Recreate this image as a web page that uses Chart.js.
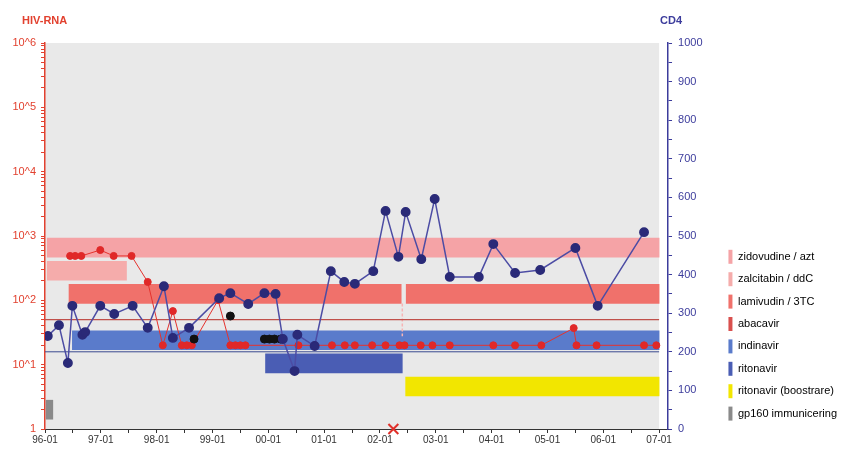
<!DOCTYPE html>
<html lang="sv">
<head>
  <meta charset="UTF-8" />
  <title>HIV-RNA / CD4</title>
  <script src="https://cdn.jsdelivr.net/npm/chart.js"></script>
  <style>
    html, body { margin: 0; padding: 0; background: #fff; }
  </style>
</head>
<body>
  <canvas id="chart" width="847" height="451"></canvas>

  <script>
    // CD4 counts (cells/ul), dates as decimal years
    const cd4Dates = [1996.05, 1996.25, 1996.41, 1996.49, 1996.67, 1996.72, 1996.99, 1997.24, 1997.57, 1997.84,
      1998.13, 1998.29, 1998.58, 1999.12, 1999.32, 1999.64, 1999.93, 2000.13, 2000.26, 2000.47, 2000.52, 2000.83,
      2001.12, 2001.36, 2001.55, 2001.88, 2002.10, 2002.33, 2002.46, 2002.74, 2002.98, 2003.25, 2003.77,
      2004.03, 2004.42, 2004.87, 2005.50, 2005.90, 2006.73];
    const cd4Values = [241, 269, 171, 319, 244, 251, 319, 298, 319, 262,
      370, 236, 262, 339, 352, 324, 352, 350, 233, 150, 244, 215,
      409, 381, 376, 409, 565, 446, 562, 440, 596, 394, 394,
      479, 404, 412, 469, 319, 510];

    // HIV-RNA (copies/ml), values below detection plotted at 20
    const rnaDates = [1996.45, 1996.54, 1996.65, 1996.99, 1997.23, 1997.55, 1997.84, 1998.11, 1998.29, 1998.45,
      1998.54, 1998.63, 1999.10, 1999.32, 1999.41, 1999.50, 1999.59, 2000.54, 2000.83, 2001.14, 2001.37,
      2001.55, 2001.86, 2002.10, 2002.35, 2002.44, 2002.73, 2002.94, 2003.25, 2004.03, 2004.42, 2004.89,
      2005.47, 2005.52, 2005.88, 2006.73, 2006.95];
    const rnaValues = [490, 490, 490, 605, 490, 490, 193, 20, 68, 20,
      20, 20, 101, 20, 20, 20, 20, 20, 20, 20, 20,
      20, 20, 20, 20, 20, 20, 20, 20, 20, 20, 20,
      37, 20, 20, 20, 20];

    // other HIV-RNA samples (black dots)
    const rnaAltDates = [1998.67, 1999.32, 1999.93, 2000.02, 2000.11, 2000.22];
    const rnaAltValues = [25, 57, 25, 25, 25, 25];

    // treatment periods
    const drugNames = ['zidovudine / azt', 'zalcitabin / ddC', 'lamivudin / 3TC', 'abacavir',
      'indinavir', 'ritonavir', 'ritonavir (boostrare)', 'gp160 immunicering'];
    const drugPeriods = [
      [[1996.04, 2007]],
      [[1996.04, 1997.46]],
      [[1996.43, 2002.38], [2002.47, 2007]],
      [],
      [[1996.49, 2007]],
      [[1999.95, 2002.40]],
      [[2002.46, 2007]],
      [[1996.02, 1996.14]]
    ];
    const drugColors = ['#f5a3a6', '#f5acab', '#f0716b', '#d9504e', '#5a7bcb', '#4a5db4', '#f2e600', '#8a8a8a'];

    const switchDate = 2002.40;        // dashed mark at regimen switch
    const switchRange = [325, 240];
    const eventDate = 2002.24;         // red cross on the time axis
    const rnaLimit = 50;
    const cd4Limit = 200;

    const yearLabels = ['96-01', '97-01', '98-01', '99-01', '00-01', '01-01', '02-01', '03-01', '04-01', '05-01', '06-01', '07-01'];
    const rnaTicks = [1, 10, 100, 1000, 10000, 100000, 1000000];
    const rnaTickLabels = ['1', '10^1', '10^2', '10^3', '10^4', '10^5', '10^6'];

    Chart.defaults.font.family = '"Liberation Sans", Arial, sans-serif';

    const pts = (xs, ys) => xs.map((x, i) => ({ x: x, y: ys[i] }));

    const barSets = drugNames.map((name, i) => ({
      type: 'bar',
      label: name,
      indexAxis: 'y',
      xAxisID: 'x',
      yAxisID: 'y2',
      data: drugPeriods[i].map(p => ({ x: p, y: 470 - 60 * i })),
      backgroundColor: drugColors[i],
      borderWidth: 0,
      barThickness: 19,
      grouped: false
    }));

    const plotBg = {
      id: 'plotBg',
      beforeDraw(chart) {
        const { ctx, chartArea, scales } = chart;
        const r = scales.x.getPixelForValue(2007);
        ctx.save();
        ctx.fillStyle = '#e9e9e9';
        ctx.fillRect(chartArea.left, chartArea.top, r - chartArea.left, chartArea.height);
        ctx.restore();
      }
    };

    const axisTitles = {
      id: 'axisTitles',
      afterDraw(chart) {
        const { ctx, chartArea, scales } = chart;
        ctx.save();
        ctx.font = 'bold 11px "Liberation Sans", Arial, sans-serif';
        ctx.textBaseline = 'middle';
        ctx.textAlign = 'left';
        ctx.fillStyle = '#e2412f';
        ctx.fillText('HIV-RNA', scales.y.right - 23, chartArea.top - 22);
        ctx.textAlign = 'center';
        ctx.fillStyle = '#3c3c9c';
        ctx.fillText('CD4', scales.y2.left + 3, chartArea.top - 22);
        ctx.restore();
      }
    };

    const ctx = document.getElementById('chart').getContext('2d');

    new Chart(ctx, {
      type: 'line',
      data: {
        datasets: [
          {
            label: 'event',
            yAxisID: 'y2',
            data: [{ x: eventDate, y: 0 }],
            showLine: false,
            pointStyle: 'crossRot',
            pointRadius: 7,
            borderWidth: 2,
            borderColor: '#e0302a',
            clip: false
          },
          {
            label: 'CD4',
            yAxisID: 'y2',
            data: pts(cd4Dates, cd4Values),
            borderColor: '#4c4ca4',
            borderWidth: 1.5,
            pointRadius: 4.2,
            pointBackgroundColor: '#2a2a78',
            pointBorderColor: '#2a2a78',
            tension: 0
          },
          {
            label: 'HIV-RNA other',
            yAxisID: 'y',
            data: pts(rnaAltDates, rnaAltValues),
            showLine: false,
            pointRadius: 4,
            pointBackgroundColor: '#111',
            pointBorderColor: '#111'
          },
          {
            label: 'HIV-RNA',
            yAxisID: 'y',
            data: pts(rnaDates, rnaValues),
            borderColor: '#e5322d',
            borderWidth: 1,
            pointRadius: 3.5,
            pointBackgroundColor: '#e02828',
            pointBorderColor: '#e02828',
            tension: 0
          },
          {
            label: 'limit RNA',
            yAxisID: 'y',
            data: [{ x: 1996, y: rnaLimit }, { x: 2007, y: rnaLimit }],
            borderColor: '#c0504a',
            borderWidth: 1.2,
            pointRadius: 0
          },
          {
            label: 'limit CD4',
            yAxisID: 'y2',
            data: [{ x: 1996, y: cd4Limit }, { x: 2007, y: cd4Limit }],
            borderColor: '#3a4a90',
            borderWidth: 1,
            pointRadius: 0
          },
          {
            label: 'switch',
            yAxisID: 'y2',
            data: [{ x: switchDate, y: switchRange[0] }, { x: switchDate, y: switchRange[1] }],
            borderColor: '#f7b4b4',
            borderWidth: 1.5,
            borderDash: [3, 2],
            pointRadius: 0
          },
          ...barSets
        ]
      },
      options: {
        responsive: false,
        animation: false,
        events: [],
        layout: { padding: { top: 43, left: 0, right: 0, bottom: 0 } },
        plugins: {
          tooltip: { enabled: false },
          legend: {
            position: 'right',
            align: 'end',
            fullSize: false,
            maxWidth: 131,
            labels: {
              boxWidth: 4,
              boxHeight: 14,
              padding: 8.4,
              color: '#555',
              font: { size: 11 },
              generateLabels: () => drugNames.map((n, i) => ({
                text: n,
                fillStyle: drugColors[i],
                strokeStyle: drugColors[i],
                lineWidth: 0,
                hidden: false,
                datasetIndex: 7 + i
              }))
            }
          }
        },
        scales: {
          x: {
            type: 'linear',
            position: 'bottom',
            min: 1996,
            max: 2007.16,
            bounds: 'data',
            beginAtZero: false,
            afterBuildTicks: s => {
              const t = [];
              for (let v = 1996; v <= 2007; v += 0.5) t.push({ value: v });
              s.ticks = t;
            },
            afterFit: s => { s.height = 22; },
            ticks: {
              autoSkip: false,
              maxRotation: 0,
              padding: 1,
              color: '#333',
              font: { size: 10 },
              callback: v => Number.isInteger(v) ? yearLabels[v - 1996] : ''
            },
            grid: { drawOnChartArea: false, tickLength: 4, color: '#333', offset: false },
            border: { color: '#333', width: 1 }
          },
          y: {
            type: 'logarithmic',
            position: 'left',
            min: 1,
            max: 1000000,
            afterBuildTicks: s => {
              const t = [];
              for (let e = 0; e < 6; e++) {
                for (let m = 1; m < 10; m++) t.push({ value: m * Math.pow(10, e) });
              }
              t.push({ value: 1000000 });
              s.ticks = t;
            },
            afterFit: s => { s.width = 45; },
            ticks: {
              autoSkip: false,
              padding: 5,
              color: '#e2412f',
              font: { size: 11 },
              callback: v => {
                const k = rnaTicks.indexOf(v);
                return k >= 0 ? rnaTickLabels[k] : '';
              }
            },
            grid: { drawOnChartArea: false, tickLength: 4, color: '#e2412f' },
            border: { color: '#e2412f', width: 1.5 }
          },
          y2: {
            type: 'linear',
            position: 'right',
            min: 0,
            max: 1000,
            bounds: 'data',
            offset: false,
            afterFit: s => { s.width = 52; },
            ticks: {
              stepSize: 50,
              autoSkip: false,
              padding: 6,
              color: '#3c3c9c',
              font: { size: 11 },
              callback: v => v % 100 === 0 ? String(v) : ''
            },
            grid: { drawOnChartArea: false, tickLength: 4, color: '#3c3c9c', offset: false },
            border: { color: '#3c3c9c', width: 1.5 }
          }
        }
      },
      plugins: [plotBg, axisTitles]
    });
  </script>
</body>
</html>
